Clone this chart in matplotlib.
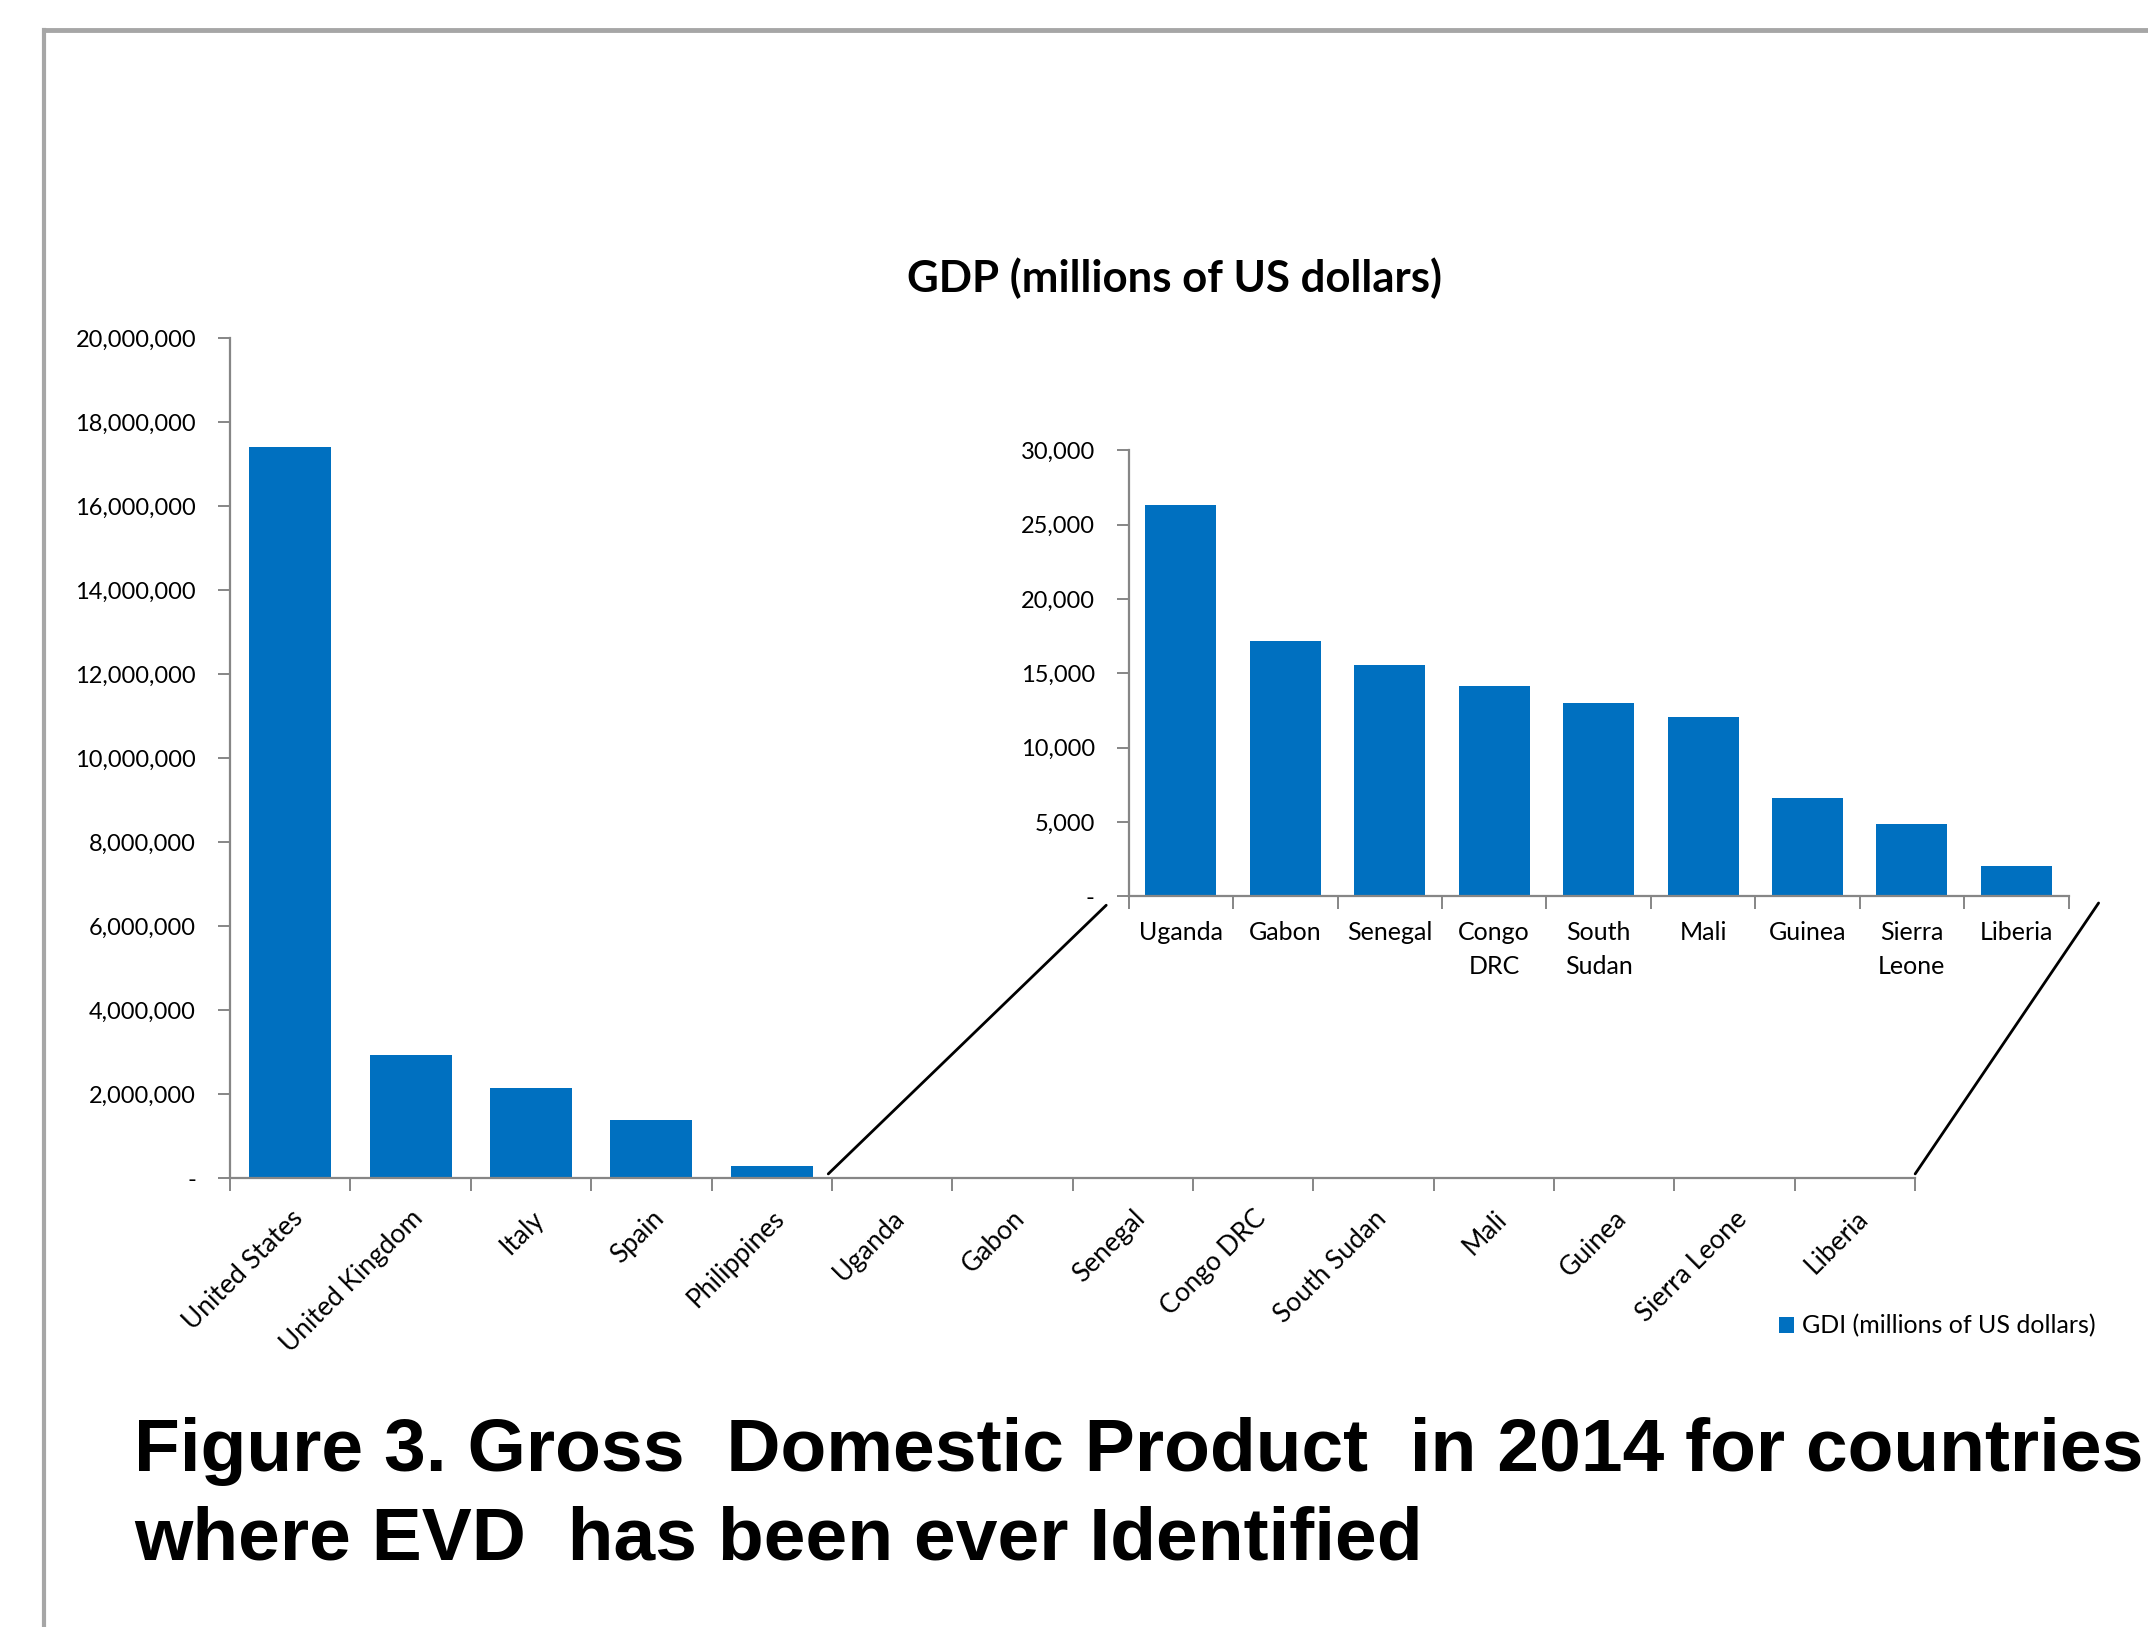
import matplotlib
matplotlib.use("Agg")
import matplotlib.pyplot as plt
from matplotlib.lines import Line2D
from matplotlib.patches import ConnectionPatch
from matplotlib.ticker import FuncFormatter, MultipleLocator, FixedLocator
import numpy as np

# ---- data ----
main_countries = ["United States", "United Kingdom", "Italy", "Spain", "Philippines",
                  "Uganda", "Gabon", "Senegal", "Congo DRC", "South Sudan", "Mali",
                  "Guinea", "Sierra Leone", "Liberia"]
main_gdp = [17400000, 2940000, 2140000, 1395000, 285000,
            26300, 17200, 15550, 14140, 13030, 12050, 6580, 4860, 2005]
inset_countries = ["Uganda", "Gabon", "Senegal", "Congo\nDRC", "South\nSudan",
                   "Mali", "Guinea", "Sierra\nLeone", "Liberia"]
inset_gdp = [26300, 17200, 15550, 14140, 13030, 12050, 6580, 4860, 2005]
series_label = "GDI (millions of US dollars)"
chart_title = "GDP (millions of US dollars)"
caption_1 = "Figure 3. Gross  Domestic Product  in 2014 for countries"
caption_2 = "where EVD  has been ever Identified"

BLUE = "#0070C0"
AX = "#868686"
FONT = "Lato"

W, H = 2148, 1627
fig = plt.figure(figsize=(W / 100, H / 100), dpi=100)
fig.patch.set_facecolor("white")

def fmt(v, pos):
    return "-" if v == 0 else f"{int(v):,}"

def style(ax):
    for s in ["top", "right"]:
        ax.spines[s].set_visible(False)
    for s in ["left", "bottom"]:
        ax.spines[s].set_color(AX)
        ax.spines[s].set_linewidth(1.6)
    ax.yaxis.set_major_formatter(FuncFormatter(fmt))
    ax.tick_params(axis="y", which="major", length=8.5, width=1.4, color=AX,
                   pad=16, labelsize=17, labelcolor="black")
    ax.tick_params(axis="x", which="major", length=0, labelsize=18, labelcolor="black")
    ax.tick_params(axis="x", which="minor", length=9, width=1.4, color=AX)

# ---- main axes ----
ax = fig.add_axes([0.1071, 0.2759, 0.8916 - 0.1071, 0.5164])
x = np.arange(len(main_countries))
ax.bar(x, main_gdp, width=0.68, color=BLUE, label=series_label, zorder=2)
ax.set_xlim(-0.5, len(main_countries) - 0.5)
ax.set_ylim(0, 20000000)
ax.yaxis.set_major_locator(MultipleLocator(2000000))
ax.set_xticks(x)
ax.set_xticklabels(main_countries, rotation=45, ha="right", va="top",
                   rotation_mode="anchor", fontfamily=FONT)
ax.xaxis.set_minor_locator(FixedLocator(np.arange(-0.5, len(main_countries), 1.0)))
style(ax)
ax.tick_params(axis="x", which="major", pad=20, labelsize=19)
for lab in ax.get_yticklabels():
    lab.set_fontfamily(FONT)

# ---- inset axes ----
ax2 = fig.add_axes([0.5255, 0.4491, 0.963 - 0.5255, 0.2742])
ax2.patch.set_alpha(0)
xi = np.arange(len(inset_countries))
ax2.bar(xi, inset_gdp, width=0.68, color=BLUE, zorder=2)
ax2.set_xlim(-0.5, len(inset_countries) - 0.5)
ax2.set_ylim(0, 30000)
ax2.yaxis.set_major_locator(MultipleLocator(5000))
ax2.set_xticks(xi)
ax2.set_xticklabels(inset_countries, fontfamily=FONT, linespacing=1.55)
ax2.xaxis.set_minor_locator(FixedLocator(np.arange(-0.5, len(inset_countries), 1.0)))
style(ax2)
ax2.tick_params(axis="x", which="major", pad=18, labelsize=18)
for lab in ax2.get_yticklabels():
    lab.set_fontfamily(FONT)

# ---- connector lines ----
con1 = ConnectionPatch(xyA=(4.47, 100000), coordsA=ax.transData,
                       xyB=(-0.024, -0.02), coordsB=ax2.transAxes,
                       color="black", lw=2.0)
con2 = ConnectionPatch(xyA=(13.5, 100000), coordsA=ax.transData,
                       xyB=(1.032, -0.015), coordsB=ax2.transAxes,
                       color="black", lw=2.0)
fig.add_artist(con1)
fig.add_artist(con2)

# ---- titles ----
fig.text(0.5466, 0.829, chart_title, ha="center", va="center",
         fontsize=31.5, fontweight="bold", fontfamily=FONT)

fig.text(0.0625, 0.0959, caption_1, ha="left", va="baseline",
         fontsize=54, fontweight="bold", fontfamily="Liberation Sans")
fig.text(0.0625, 0.0412, caption_2, ha="left", va="baseline",
         fontsize=54, fontweight="bold", fontfamily="Liberation Sans")

# ---- legend ----
handles, labels = ax.get_legend_handles_labels()
fig.legend(handles, labels, loc="center left",
           bbox_to_anchor=(1299 / 1568, 1 - 969 / 1189), frameon=False,
           handlelength=0.6, handleheight=0.6, handletextpad=0.3,
           borderpad=0, borderaxespad=0, prop={"family": FONT, "size": 18})

# ---- page border ----
fig.add_artist(Line2D([32 / 1568, 1.0], [1 - 22 / 1189, 1 - 22 / 1189],
                      transform=fig.transFigure, color="#a6a6a6", lw=3.5))
fig.add_artist(Line2D([32 / 1568, 32 / 1568], [0.0, 1 - 22 / 1189],
                      transform=fig.transFigure, color="#a6a6a6", lw=3.0))

fig.savefig("out.png", dpi=100, facecolor="white")
